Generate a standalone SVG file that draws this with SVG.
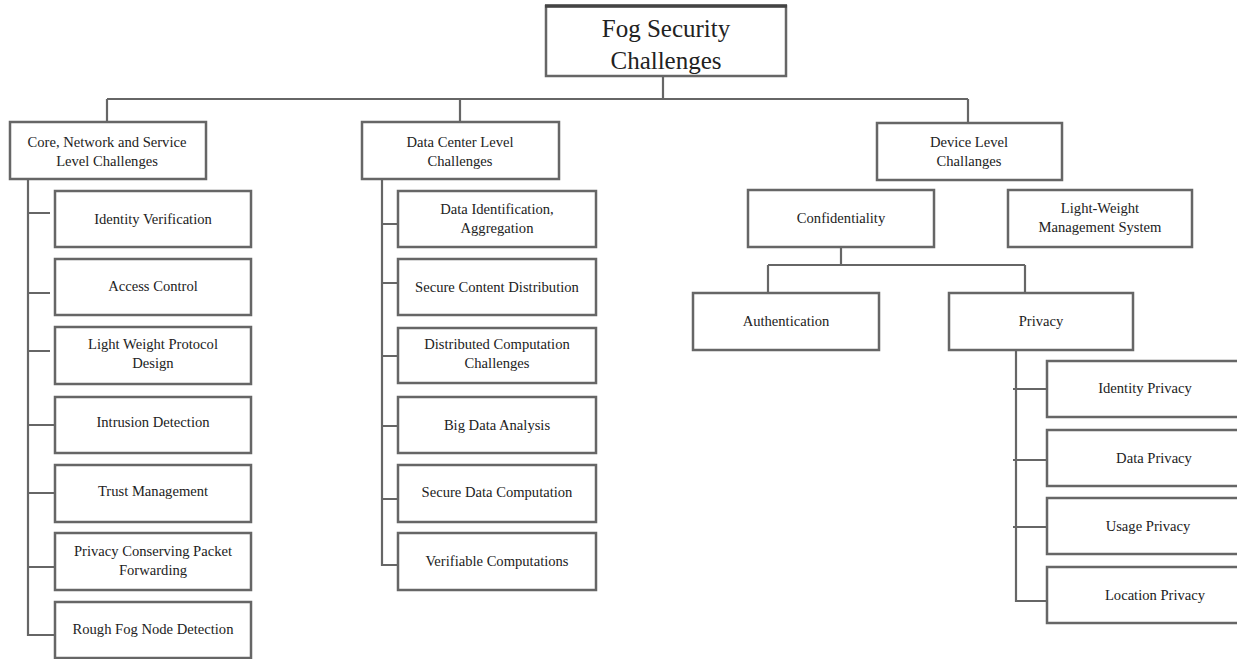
<svg xmlns="http://www.w3.org/2000/svg" width="1237" height="659" viewBox="0 0 1237 659">
  <style>
    .box { fill: #ffffff; stroke: #666666; stroke-width: 2.5; }
    .wire { fill: none; stroke: #666666; stroke-width: 2.2; }
    .lbl { font-family: "Liberation Serif", "Times New Roman", serif; font-size: 14.6px; fill: #222222; text-anchor: middle; }
    .title { font-family: "Liberation Serif", "Times New Roman", serif; font-size: 25px; fill: #222222; text-anchor: middle; }
  </style>
  <rect width="1237" height="659" fill="#ffffff"/>

  <!-- connectors -->
  <g id="connectors" class="wire">
    <path d="M663 76 V99 M107 99 H968 M107 99 V122 M460 99 V122 M968 99 V123"/>
    <!-- core / network / service branch -->
    <path d="M28 179 V635 H55 M28 213 H50 M28 293 H50 M28 351 H50 M28 425 H55 M28 493 H55 M28 567 H55"/>
    <!-- data centre branch -->
    <path d="M382 179 V565 H398 M382 224 H398 M382 283 H398 M382 356 H398 M382 426 H398 M382 499 H398"/>
    <!-- device branch -->
    <path d="M841 247 V265 M768 265 H1025 M768 265 V293 M1025 265 V293"/>
    <path d="M1016 350 V601 H1047 M1013 389 H1047 M1013 460 H1047 M1013 527 H1047"/>
  </g>

  <g id="root">
    <rect class="box" x="546" y="6" width="240" height="70"/>
    <path d="M545 6 H787" stroke="#444444" stroke-width="3.5"/>
    <text class="title" x="666" y="37">Fog Security</text>
    <text class="title" x="666" y="69">Challenges</text>
  </g>

  <g id="core-network-service">
    <rect class="box" x="10" y="122" width="196" height="57"/>
    <text class="lbl" x="107" y="147">Core, Network and Service</text>
    <text class="lbl" x="107" y="166">Level Challenges</text>
  </g>
  <g id="identity-verification">
    <rect class="box" x="55" y="191" width="196" height="56"/>
    <text class="lbl" x="153" y="224">Identity Verification</text>
  </g>
  <g id="access-control">
    <rect class="box" x="55" y="259" width="196" height="56"/>
    <text class="lbl" x="153" y="291">Access Control</text>
  </g>
  <g id="light-weight-protocol">
    <rect class="box" x="55" y="327" width="196" height="57"/>
    <text class="lbl" x="153" y="349">Light Weight Protocol</text>
    <text class="lbl" x="153" y="368">Design</text>
  </g>
  <g id="intrusion-detection">
    <rect class="box" x="55" y="397" width="196" height="56"/>
    <text class="lbl" x="153" y="427">Intrusion Detection</text>
  </g>
  <g id="trust-management">
    <rect class="box" x="55" y="465" width="196" height="57"/>
    <text class="lbl" x="153" y="496">Trust Management</text>
  </g>
  <g id="privacy-conserving">
    <rect class="box" x="55" y="533" width="196" height="57"/>
    <text class="lbl" x="153" y="556">Privacy Conserving Packet</text>
    <text class="lbl" x="153" y="575">Forwarding</text>
  </g>
  <g id="rough-fog-node">
    <rect class="box" x="55" y="602" width="196" height="56"/>
    <text class="lbl" x="153" y="634">Rough Fog Node Detection</text>
  </g>

  <g id="data-center">
    <rect class="box" x="362" y="122" width="197" height="57"/>
    <text class="lbl" x="460" y="147">Data Center Level</text>
    <text class="lbl" x="460" y="166">Challenges</text>
  </g>
  <g id="data-identification">
    <rect class="box" x="398" y="191" width="198" height="56"/>
    <text class="lbl" x="497" y="214">Data Identification,</text>
    <text class="lbl" x="497" y="233">Aggregation</text>
  </g>
  <g id="secure-content">
    <rect class="box" x="398" y="259" width="198" height="56"/>
    <text class="lbl" x="497" y="292">Secure Content Distribution</text>
  </g>
  <g id="distributed-computation">
    <rect class="box" x="398" y="328" width="198" height="55"/>
    <text class="lbl" x="497" y="349">Distributed Computation</text>
    <text class="lbl" x="497" y="368">Challenges</text>
  </g>
  <g id="big-data">
    <rect class="box" x="398" y="397" width="198" height="56"/>
    <text class="lbl" x="497" y="430">Big Data Analysis</text>
  </g>
  <g id="secure-data-computation">
    <rect class="box" x="398" y="465" width="198" height="57"/>
    <text class="lbl" x="497" y="497">Secure Data Computation</text>
  </g>
  <g id="verifiable-computations">
    <rect class="box" x="398" y="533" width="198" height="57"/>
    <text class="lbl" x="497" y="566">Verifiable Computations</text>
  </g>

  <g id="device-level">
    <rect class="box" x="877" y="123" width="185" height="57"/>
    <text class="lbl" x="969" y="147">Device Level</text>
    <text class="lbl" x="969" y="166">Challanges</text>
  </g>
  <g id="confidentiality">
    <rect class="box" x="748" y="190" width="186" height="57"/>
    <text class="lbl" x="841" y="223">Confidentiality</text>
  </g>
  <g id="light-weight-management">
    <rect class="box" x="1008" y="190" width="184" height="57"/>
    <text class="lbl" x="1100" y="213">Light-Weight</text>
    <text class="lbl" x="1100" y="232">Management System</text>
  </g>
  <g id="authentication">
    <rect class="box" x="693" y="293" width="186" height="57"/>
    <text class="lbl" x="786" y="326">Authentication</text>
  </g>
  <g id="privacy">
    <rect class="box" x="949" y="293" width="184" height="57"/>
    <text class="lbl" x="1041" y="326">Privacy</text>
  </g>
  <g id="identity-privacy">
    <rect class="box" x="1047" y="361" width="200" height="56"/>
    <text class="lbl" x="1145" y="393">Identity Privacy</text>
  </g>
  <g id="data-privacy">
    <rect class="box" x="1047" y="430" width="200" height="56"/>
    <text class="lbl" x="1154" y="463">Data Privacy</text>
  </g>
  <g id="usage-privacy">
    <rect class="box" x="1047" y="498" width="200" height="56"/>
    <text class="lbl" x="1148" y="531">Usage Privacy</text>
  </g>
  <g id="location-privacy">
    <rect class="box" x="1047" y="567" width="200" height="56"/>
    <text class="lbl" x="1155" y="600">Location Privacy</text>
  </g>
</svg>
